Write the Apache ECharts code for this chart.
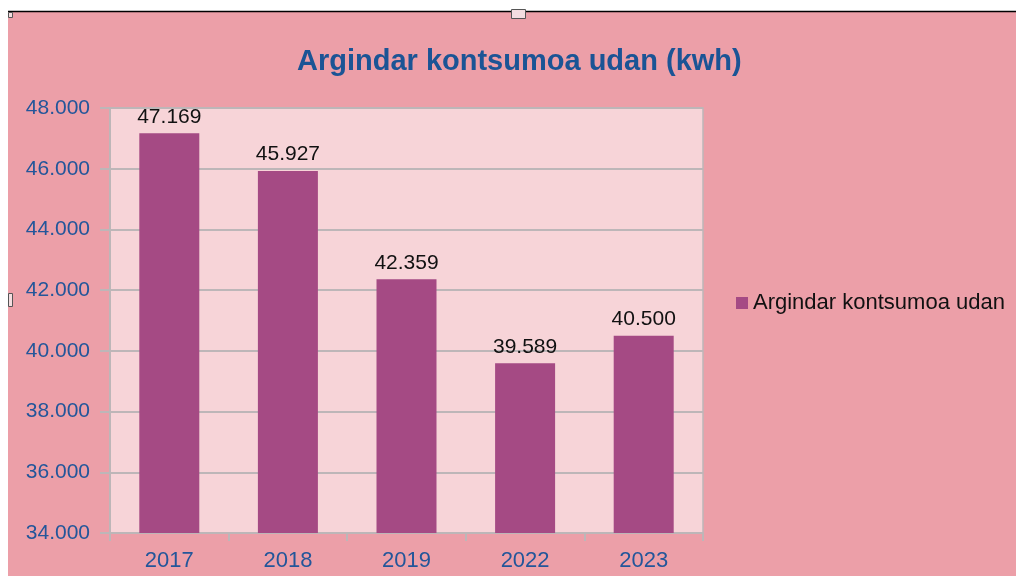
<!DOCTYPE html>
<html>
<head>
<meta charset="utf-8">
<title>Argindar kontsumoa udan (kwh)</title>
<script src="https://cdn.jsdelivr.net/npm/echarts@6/dist/echarts.min.js"></script>
<style>
  html, body { margin: 0; padding: 0; background: #fff; }
  #chart { width: 1016px; height: 576px; }
</style>
</head>
<body>
<div id="chart"></div>
<script>
// urteak eta kontsumoa (kwh)
const years = ['2017', '2018', '2019', '2022', '2023'];
const consumption = [47169, 45927, 42359, 39589, 40500];
const yMin = 34000;
const yMax = 48000;
const yStep = 2000;

const FONT = '"Liberation Sans", Arial, sans-serif';
const BLUE = '#23569a';
const GRID_GRAY = '#bdb6b8';

// 47169 -> 47.169
function fmt(v) {
  return String(v).replace(/\B(?=(\d{3})+(?!\d))/g, '.');
}

const chart = echarts.init(document.getElementById('chart'));

const option = {
  backgroundColor: '#ec9fa8',
  animation: false,
  textStyle: { fontFamily: FONT },
  title: {
    text: 'Argindar kontsumoa udan (kwh)',
    left: 292,
    top: 42,
    textStyle: {
      color: '#1b5495',
      fontSize: 29,
      fontWeight: 'bold',
      fontFamily: FONT,
    },
  },
  legend: {
    left: 731,
    top: 287,
    icon: 'rect',
    itemWidth: 12,
    itemHeight: 12,
    textStyle: {
      color: '#111',
      fontSize: 22,
      fontFamily: FONT,
      padding: [0, 0, 0, 0],
    },
    data: ['Argindar kontsumoa udan'],
  },
  grid: {
    left: 110,
    top: 108,
    right: 313,
    bottom: 43,
    show: true,
    backgroundColor: '#f7d4d8',
    borderColor: GRID_GRAY,
    borderWidth: 1.5,
  },
  xAxis: {
    type: 'category',
    data: years,
    axisLine: { lineStyle: { color: GRID_GRAY, width: 2 } },
    axisTick: { show: true, length: 8, lineStyle: { color: GRID_GRAY, width: 2 } },
    axisLabel: {
      color: BLUE,
      fontSize: 22,
      margin: 17,
      fontFamily: FONT,
    },
  },
  yAxis: {
    type: 'value',
    min: yMin,
    max: yMax,
    interval: yStep,
    axisLine: { show: true, lineStyle: { color: GRID_GRAY, width: 2 } },
    axisTick: { show: true, length: 10, lineStyle: { color: GRID_GRAY, width: 2 } },
    splitLine: { lineStyle: { color: GRID_GRAY, width: 2 } },
    axisLabel: {
      color: BLUE,
      fontSize: 21,
      margin: 20,
      fontFamily: FONT,
      formatter: (v) => fmt(v),
    },
  },
  series: [{
    name: 'Argindar kontsumoa udan',
    type: 'bar',
    data: consumption,
    barWidth: 60,
    itemStyle: { color: '#a54a84' },
    label: {
      show: true,
      position: 'top',
      distance: 6,
      color: '#111',
      fontSize: 21,
      fontFamily: FONT,
      formatter: (p) => fmt(p.value),
    },
  }],
  // editorearen ertzak eta heldulekuak
  graphic: [
    { type: 'rect', shape: { x: 0, y: 0, width: 1016, height: 11 }, style: { fill: '#fff' }, silent: true },
    { type: 'rect', shape: { x: 0, y: 0, width: 8, height: 576 }, style: { fill: '#fff' }, silent: true },
    { type: 'line', shape: { x1: 8, y1: 11.5, x2: 1016, y2: 11.5 }, style: { stroke: '#000', lineWidth: 1.5 }, silent: true },
    { type: 'rect', shape: { x: 511.5, y: 9.5, width: 14, height: 9 }, style: { fill: '#f4dde0', stroke: '#555', lineWidth: 1 }, silent: true },
    { type: 'rect', shape: { x: 8.5, y: 12.5, width: 4, height: 5 }, style: { fill: '#f4dde0', stroke: '#555', lineWidth: 1 }, silent: true },
    { type: 'rect', shape: { x: 8.5, y: 293.5, width: 4, height: 13 }, style: { fill: '#f4dde0', stroke: '#555', lineWidth: 1 }, silent: true },
  ],
};

chart.setOption(option);
</script>
</body>
</html>
